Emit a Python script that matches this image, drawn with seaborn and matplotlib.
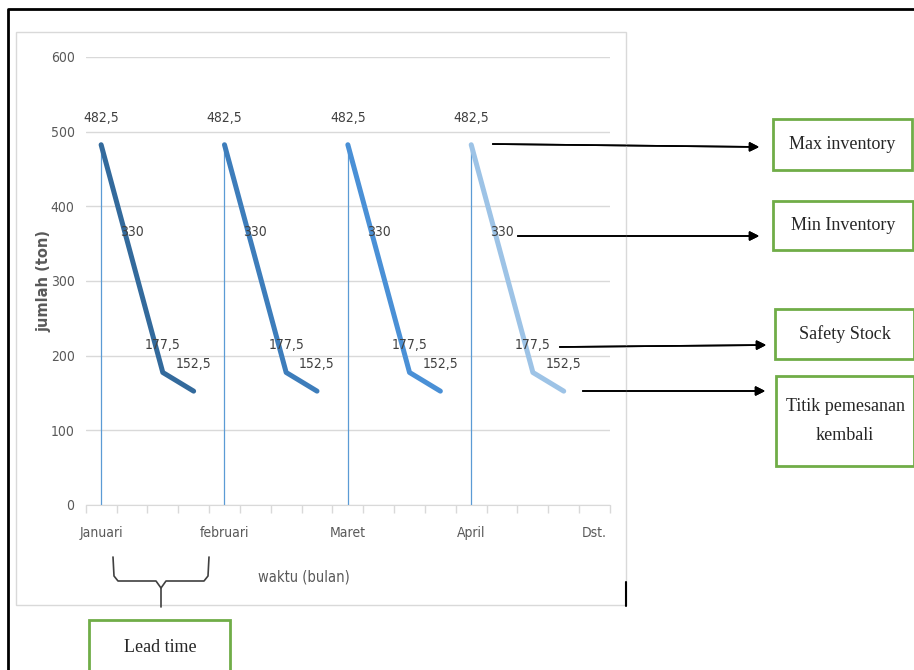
import pandas as pd
import matplotlib.pyplot as plt
import seaborn as sns
from matplotlib.patches import Rectangle
from matplotlib.lines import Line2D

# inventory level per cycle (4 points each), one cycle per month
cycle_jan = [482.5, 330, 177.5, 152.5]
cycle_feb = [482.5, 330, 177.5, 152.5]
cycle_mar = [482.5, 330, 177.5, 152.5]
cycle_apr = [482.5, 330, 177.5, 152.5]
months = ["Januari", "februari", "Maret", "April", "Dst."]
n_slots = 17  # category slots on the x axis
colors = ["#336a9c", "#3d7dbb", "#4a90d6", "#9dc3e6"]

cycles = [cycle_jan, cycle_feb, cycle_mar, cycle_apr]
rows = []
for i, cyc in enumerate(cycles):
    for j, v in enumerate(cyc):
        rows.append({"slot": i * 4 + j, "jumlah": v, "siklus": months[i]})
df = pd.DataFrame(rows)

sns.set_style("white")
plt.rcParams["font.family"] = ["Liberation Sans Narrow", "DejaVu Sans"]
plt.rcParams["font.stretch"] = "condensed"

W, H = 914, 670
fig = plt.figure(figsize=(W / 100, H / 100), dpi=100)


def fx(x):
    return x / W


def fy(y):
    return 1 - y / H


ax = fig.add_axes([fx(85.7), fy(505), fx(610) - fx(85.7), fy(57) - fy(505)])

# replenishment lines (thin, from 0 up to the peak)
for i, cyc in enumerate(cycles):
    ax.plot([i * 4, i * 4], [0, cyc[0]], color="#5b9bd5", lw=0.9, zorder=2)

sns.lineplot(data=df, x="slot", y="jumlah", hue="siklus", palette=colors,
             linewidth=3.6, legend=False, ax=ax, zorder=3)

# data labels
for _, r in df.iterrows():
    lab = f"{r['jumlah']:g}".replace(".", ",")
    ax.annotate(lab, (r["slot"], r["jumlah"]), xytext=(0, 19.5),
                textcoords="offset points", ha="center", va="center",
                fontsize=10, color="#404040")

ax.set_xlim(-0.5, n_slots - 0.5)
ax.set_ylim(0, 600)
ax.set_yticks([0, 100, 200, 300, 400, 500, 600])
ax.yaxis.grid(True, color="#d9d9d9", lw=1)
ax.set_axisbelow(True)
for s in ["top", "right", "left"]:
    ax.spines[s].set_visible(False)
ax.spines["bottom"].set_color("#d9d9d9")
ax.tick_params(axis="y", length=0, pad=8, labelsize=10, labelcolor="#595959")

ax.set_xticks([0, 4, 8, 12, 16])
ax.set_xticklabels(months)
ax.set_xticks([k - 0.5 for k in range(n_slots + 1)], minor=True)
ax.tick_params(axis="x", which="major", length=0, pad=15, labelsize=10,
               labelcolor="#595959")
ax.tick_params(axis="x", which="minor", bottom=True, length=6,
               color="#d9d9d9", width=1)

ax.set_ylabel("jumlah (ton)", fontsize=10.5, fontweight="bold", color="#595959",
              family=["DejaVu Sans"], fontstretch="normal")
ax.yaxis.set_label_coords(-(85.7 - 51) / 524.3, 0.5)
ax.set_xlabel("waktu (bulan)", fontsize=10.5, color="#595959")
ax.xaxis.set_label_coords((304 - 85.7) / 524.3, -(569 - 505) / 448)

# chart area border and outer frame
fig.patches.append(Rectangle((fx(16), fy(605)), fx(626) - fx(16), fy(32) - fy(605),
                             transform=fig.transFigure, fill=False,
                             edgecolor="#d9d9d9", lw=1))
fig.lines.append(Line2D([fx(626), fx(626)], [fy(582), fy(606)],
                        transform=fig.transFigure, color="black", lw=1.5))
fig.lines.append(Line2D([fx(8), fx(8), fx(914)], [fy(670), fy(9), fy(9)],
                        transform=fig.transFigure, color="black", lw=2))

# annotation boxes with arrows
boxes = [
    ("Max inventory", 773, 119, 139, 51, (490, 144), (762, 147)),
    ("Min Inventory", 773, 201, 140, 49, (515, 236), (762, 236)),
    ("Safety Stock", 775, 309, 139, 50, (557, 347), (769, 345)),
    ("Titik pemesanan\nkembali", 776, 376, 138, 90, (580, 391), (768, 391)),
]
for txt, bx, by, bw, bh, a0, a1 in boxes:
    fig.patches.append(Rectangle((fx(bx), fy(by + bh)), bw / W, bh / H,
                                 transform=fig.transFigure, fill=False,
                                 edgecolor="#70ad47", lw=2))
    fig.text(fx(bx + bw / 2), fy(by + bh / 2), txt, ha="center", va="center",
             fontsize=13, family=["Liberation Serif"], fontstretch="normal",
             linespacing=1.9)
    fig.add_artist(plt.annotate("", xy=(fx(a1[0]), fy(a1[1])), xytext=(fx(a0[0]), fy(a0[1])),
                                xycoords="figure fraction", textcoords="figure fraction",
                                arrowprops=dict(arrowstyle="-|>", color="black", lw=1.2,
                                                mutation_scale=14)))

# lead time brace and box
bx_pts = [113, 114, 118, 156, 161, 161]
by_pts = [557, 576, 581, 581, 588, 607]
fig.lines.append(Line2D([fx(v) for v in bx_pts], [fy(v) for v in by_pts],
                        transform=fig.transFigure, color="#404040", lw=1.2))
bx_pts = [209, 208, 204, 166, 161]
by_pts = [557, 576, 581, 581, 588]
fig.lines.append(Line2D([fx(v) for v in bx_pts], [fy(v) for v in by_pts],
                        transform=fig.transFigure, color="#404040", lw=1.2))
fig.patches.append(Rectangle((fx(89), fy(672)), 141 / W, 52 / H,
                             transform=fig.transFigure, fill=False,
                             edgecolor="#70ad47", lw=2, clip_on=False))
fig.text(fx(160), fy(647), "Lead time", ha="center", va="center",
         fontsize=13, family=["Liberation Serif"], fontstretch="normal")

fig.savefig("out.png", dpi=100)
